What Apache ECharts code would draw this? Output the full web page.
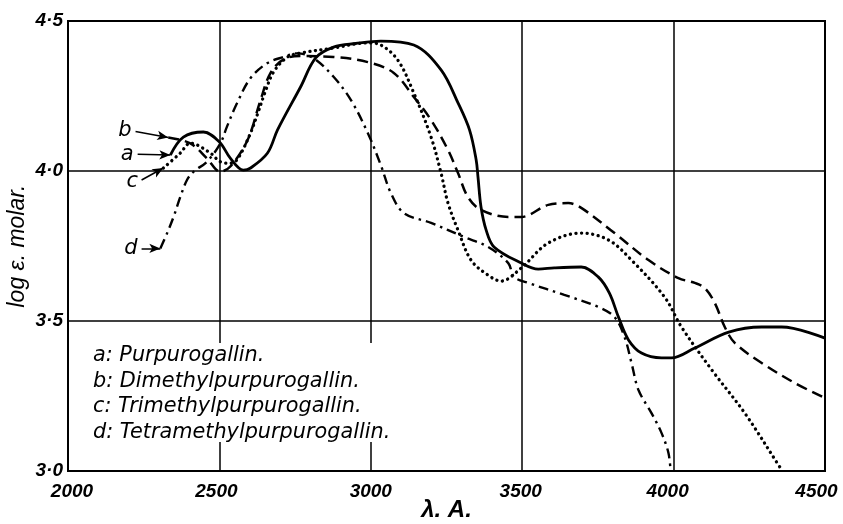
<!DOCTYPE html>
<html>
<head>
<meta charset="utf-8">
<script src="https://cdn.jsdelivr.net/npm/echarts@6/dist/echarts.min.js"></script>
<style>
html,body{margin:0;padding:0;background:#fff;}
#chart{width:843px;height:524px;}
</style>
</head>
<body>
<div id="chart"></div>
<script>
// ---- Data ----
const xTickLabels = ['2000', '2500', '3000', '3500', '4000', '4500'];
const yTickLabels = ['3·0', '3·5', '4·0', '4·5'];

// a: Purpurogallin (solid)
const aX = [2338, 2381, 2447, 2500, 2536, 2579, 2603, 2659, 2692, 2768, 2818, 2877, 2950, 3033, 3142, 3232, 3288, 3326, 3348, 3354, 3364, 3381, 3407, 3497, 3553, 3606, 3695, 3751, 3788, 3818, 3851, 3894, 3960, 3993, 4070, 4182, 4291, 4357, 4500];
const aY = [4.053, 4.113, 4.13, 4.097, 4.043, 4.003, 4.01, 4.06, 4.137, 4.28, 4.377, 4.413, 4.425, 4.433, 4.42, 4.337, 4.227, 4.137, 4.037, 3.98, 3.88, 3.803, 3.747, 3.693, 3.673, 3.677, 3.68, 3.647, 3.593, 3.513, 3.437, 3.393, 3.377, 3.377, 3.41, 3.463, 3.48, 3.48, 3.443];

// b: Dimethylpurpurogallin (dashed)
const bX = [2331, 2404, 2459, 2503, 2536, 2593, 2636, 2669, 2712, 2768, 2877, 2990, 3076, 3142, 3199, 3255, 3288, 3321, 3364, 3454, 3497, 3586, 3652, 3695, 3805, 3917, 4016, 4070, 4103, 4136, 4169, 4202, 4291, 4401, 4500];
const bY = [4.112, 4.092, 4.042, 3.998, 4.015, 4.103, 4.237, 4.327, 4.372, 4.383, 4.38, 4.363, 4.327, 4.247, 4.17, 4.07, 3.993, 3.913, 3.87, 3.847, 3.847, 3.887, 3.893, 3.877, 3.793, 3.703, 3.643, 3.627, 3.61, 3.56, 3.48, 3.427, 3.36, 3.293, 3.243];

// c: Trimethylpurpurogallin (dotted)
const cX = [2315, 2371, 2404, 2470, 2503, 2536, 2560, 2600, 2626, 2650, 2679, 2725, 2768, 2877, 2990, 3033, 3089, 3142, 3199, 3232, 3255, 3288, 3331, 3387, 3430, 3497, 3586, 3695, 3785, 3861, 3970, 4026, 4126, 4235, 4351, 4360];
const cY = [4.01, 4.06, 4.093, 4.06, 4.031, 4.026, 4.04, 4.12, 4.19, 4.26, 4.33, 4.38, 4.393, 4.41, 4.427, 4.42, 4.37, 4.26, 4.113, 3.993, 3.893, 3.803, 3.703, 3.653, 3.633, 3.677, 3.76, 3.793, 3.77, 3.703, 3.58, 3.48, 3.337, 3.193, 3.013, 3.0];

// d: Tetramethylpurpurogallin (dash-dot)
const dX = [2305, 2327, 2349, 2371, 2393, 2415, 2459, 2503, 2525, 2558, 2603, 2659, 2712, 2757, 2811, 2877, 2934, 2990, 3033, 3066, 3109, 3199, 3308, 3387, 3454, 3473, 3520, 3639, 3751, 3805, 3838, 3861, 3884, 3927, 3960, 3983, 3990];
const dY = [3.742, 3.792, 3.848, 3.914, 3.97, 3.998, 4.031, 4.092, 4.148, 4.226, 4.31, 4.36, 4.38, 4.392, 4.376, 4.314, 4.237, 4.127, 4.02, 3.927, 3.86, 3.827, 3.78, 3.747, 3.693, 3.647, 3.627, 3.587, 3.547, 3.513, 3.447, 3.36, 3.27, 3.193, 3.127, 3.06, 3.0];

const legendLines = ['a: Purpurogallin.', 'b: Dimethylpurpurogallin.', 'c: Trimethylpurpurogallin.', 'd: Tetramethylpurpurogallin.'];
const xName = 'λ. A.';
const yName = 'log ε. molar.';

// ---- Chart ----
const FONT = '"Liberation Sans", Arial, sans-serif';
const FONT2 = '"DejaVu Sans", sans-serif';
function pairs(xs, ys) { return xs.map((x, i) => [x, ys[i]]); }

// arrow offsets (data units) from each curve's first point back to its letter
const arrowOffsets = {
  a: [108, 0.003],
  b: [108, 0.02],
  c: [72, -0.04],
  d: [62, 0.0]
};

function arrowMark(letter, xs, ys) {
  const off = arrowOffsets[letter];
  const x0 = xs[0], y0 = ys[0];
  return {
    silent: true,
    symbol: ['none', 'arrow'],
    symbolSize: [7, 11],
    lineStyle: { color: '#000', type: 'solid', width: 1.5 },
    label: {
      show: true, position: 'start', distance: 4,
      formatter: letter,
      color: '#000', fontFamily: FONT2, fontStyle: 'italic', fontSize: 21,
      padding: [4, 0, 0, 0]
    },
    data: [[{ coord: [x0 - off[0], y0 + off[1]] }, { coord: [x0, y0] }]]
  };
}

const chart = echarts.init(document.getElementById('chart'), null, { renderer: 'canvas' });

const series = [
  { name: 'a', data: pairs(aX, aY), lineStyle: { type: 'solid', width: 2.8 }, mk: arrowMark('a', aX, aY) },
  { name: 'b', data: pairs(bX, bY), lineStyle: { type: [11, 6], width: 2.5 }, mk: arrowMark('b', bX, bY) },
  { name: 'c', data: pairs(cX, cY), lineStyle: { type: [0.1, 5.5], width: 3.3, cap: 'round' }, mk: arrowMark('c', cX, cY) },
  { name: 'd', data: pairs(dX, dY), lineStyle: { type: [10, 5, 2.5, 5], width: 2.4 }, mk: arrowMark('d', dX, dY) }
].map(s => ({
  type: 'line',
  name: s.name,
  data: s.data,
  smooth: 0.35,
  showSymbol: false,
  symbol: 'none',
  clip: true,
  lineStyle: Object.assign({ color: '#000' }, s.lineStyle),
  markLine: s.mk,
  z: 3
}));

const tickStyle = { color: '#000', fontFamily: FONT, fontStyle: 'italic', fontWeight: 'bold', fontSize: 19 };
const xRich = {
  p0: Object.assign({ padding: [0, 0, 0, 8] }, tickStyle),
  p1: Object.assign({ padding: [0, 6, 0, 0] }, tickStyle),
  p2: Object.assign({ padding: [0, 0, 0, 0] }, tickStyle),
  p3: Object.assign({ padding: [0, 3, 0, 0] }, tickStyle),
  p4: Object.assign({ padding: [0, 12, 0, 0] }, tickStyle),
  p5: Object.assign({ padding: [0, 17, 0, 0] }, tickStyle)
};

const option = {
  backgroundColor: '#fff',
  animation: false,
  grid: { left: 68, right: 18, top: 21, bottom: 53, show: true, borderColor: '#000', borderWidth: 2, containLabel: false, outerBoundsMode: 'none' },
  xAxis: {
    type: 'value', min: 2000, max: 4500, interval: 500,
    name: xName, nameLocation: 'middle', nameGap: 27, nameMoveOverlap: false,
    nameTextStyle: { color: '#000', fontFamily: FONT, fontStyle: 'italic', fontWeight: 'bold', fontSize: 24 },
    axisLine: { show: true, lineStyle: { color: '#000', width: 2 } },
    axisTick: { show: false },
    axisLabel: Object.assign({}, tickStyle, {
      margin: 11,
      rich: xRich,
      formatter: v => { const i = Math.round((v - 2000) / 500); return '{p' + i + '|' + xTickLabels[i] + '}'; }
    }),
    splitLine: { show: true, lineStyle: { color: '#000', width: 1.5 } }
  },
  yAxis: {
    type: 'value', min: 3.0, max: 4.5, interval: 0.5,
    name: yName, nameLocation: 'middle', nameGap: 39, nameRotate: 90, nameMoveOverlap: false,
    nameTextStyle: { color: '#000', fontFamily: FONT, fontStyle: 'italic', fontSize: 23 },
    axisLine: { show: true, lineStyle: { color: '#000', width: 2 } },
    axisTick: { show: false },
    axisLabel: Object.assign({}, tickStyle, {
      margin: 5,
      formatter: v => yTickLabels[Math.round((v - 3.0) / 0.5)]
    }),
    splitLine: { show: true, lineStyle: { color: '#000', width: 1.5 } }
  },
  graphic: [
    { type: 'rect', left: 88, top: 343, shape: { width: 310, height: 99 }, style: { fill: '#fff' }, z: 10 }
  ].concat(legendLines.map((t, i) => ({
    type: 'text', left: 93, top: 345 + i * 25.8, z: 11,
    style: { text: t, fill: '#000', fontFamily: FONT2, fontStyle: 'italic', fontSize: 20.8 }
  }))),
  series: series
};
chart.setOption(option);
</script>
</body>
</html>
